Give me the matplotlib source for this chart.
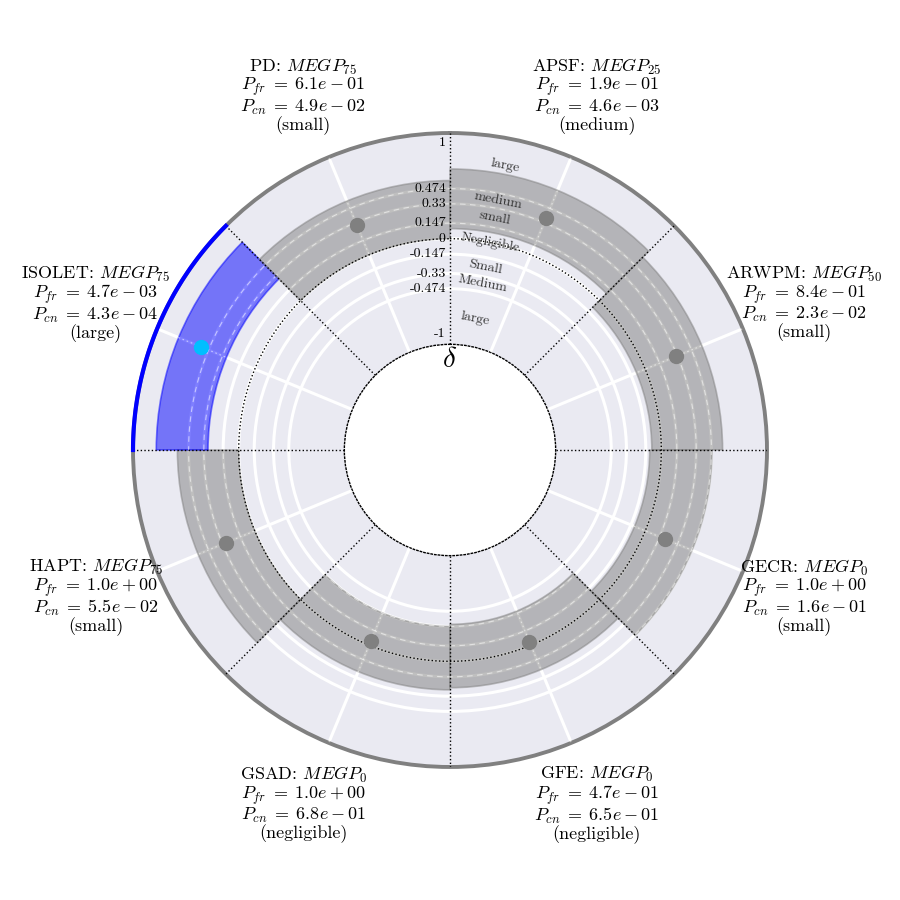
import numpy as np
import matplotlib
matplotlib.use('Agg')
import matplotlib.pyplot as plt
from matplotlib.transforms import ScaledTranslation

plt.rcParams['font.family'] = 'serif'
plt.rcParams['font.serif'] = ['cmr10', 'DejaVu Serif']
plt.rcParams['mathtext.fontset'] = 'cm'
plt.rcParams['axes.unicode_minus'] = False
plt.rcParams['axes.formatter.use_mathtext'] = True

# ---------------- data ----------------
datasets = ['APSF', 'ARWPM', 'GECR', 'GFE', 'GSAD', 'HAPT', 'ISOLET', 'PD']
best_megp = ['25', '50', '0', '0', '0', '75', '75', '75']
p_fr = ['1.9e-01', '8.4e-01', '1.0e+00', '4.7e-01', '1.0e+00', '1.0e+00', '4.7e-03', '6.1e-01']
p_cn = ['4.6e-03', '2.3e-02', '1.6e-01', '6.5e-01', '6.8e-01', '5.5e-02', '4.3e-04', '4.9e-02']
magnitude = ['medium', 'small', 'small', 'negligible', 'negligible', 'small', 'large', 'small']
delta_est = [0.375, 0.315, 0.206, -0.035, -0.047, 0.296, 0.555, 0.305]
ci_low = [0.095, -0.09, -0.11, -0.35, -0.33, 0.0, 0.29, 0.0]
ci_high = [0.66, 0.58, 0.48, 0.25, 0.27, 0.58, 0.78, 0.55]
highlight = [False, False, False, False, False, False, True, False]

r_ticks = [-0.474, -0.33, -0.147, 0, 0.147, 0.33, 0.474]
r_tick_labels = ['-0.474', '-0.33', '-0.147', '0', '0.147', '0.33', '0.474']
thresholds = [0.147, 0.33, 0.474, 1.0]
mag_names_pos = ['small', 'medium', 'large']
mag_names_neg = ['Small', 'Medium', 'large']

# ---------------- figure ----------------
fig = plt.figure(figsize=(9, 9), dpi=100)
fig.patch.set_facecolor('white')
ax = fig.add_axes([0.1478, 0.1478, 0.7044, 0.7044], projection='polar')
ax.set_theta_zero_location('N')
ax.set_theta_direction(-1)
ax.set_facecolor('#EAEAF2')
ax.set_ylim(-1, 1)
ax.set_rorigin(-2)

n = len(datasets)
width = 2 * np.pi / n
mids = np.arange(n) * width + width / 2
bounds = np.arange(n) * width

ax.set_xticks(mids)
ax.set_xticklabels([])
ax.set_yticks(r_ticks)
ax.set_yticklabels([])
ax.tick_params(length=0)
ax.grid(True, color='white', linewidth=2.2, linestyle='-')
ax.set_axisbelow(True)

ax.spines['polar'].set_color('#808080')
ax.spines['polar'].set_linewidth(2.8)
ax.spines['inner'].set_color('black')
ax.spines['inner'].set_linestyle(':')
ax.spines['inner'].set_linewidth(1.0)

# confidence bands
colors = ['blue' if h else 'gray' for h in highlight]
heights = np.array(ci_high) - np.array(ci_low)
ax.bar(mids, heights, width=width, bottom=ci_low, color=colors, alpha=0.5,
       edgecolor=colors, linewidth=1.2, zorder=2)

# light dashed grid over the bands
circ = np.linspace(0, 2 * np.pi, 721)
for v in r_ticks:
    if v != 0:
        ax.plot(circ, np.full_like(circ, v), color='white', lw=0.8,
                ls=(0, (5, 4)), alpha=0.55, zorder=3)
for m in mids:
    ax.plot([m, m], [-1, 1], color='white', lw=0.8, ls=(0, (1.5, 2.5)), alpha=0.55, zorder=3)

# zero circle and sector boundaries
ax.plot(circ, np.zeros_like(circ), color='black', ls=':', lw=1.0, zorder=3.5)
for b in bounds:
    ax.plot([b, b], [-1, 1], color='black', ls=':', lw=1.0, zorder=3.5)

# estimates
dot_colors = ['deepskyblue' if h else 'gray' for h in highlight]
for m, d, c in zip(mids, delta_est, dot_colors):
    ax.plot(m, d, 'o', ms=10, color=c, zorder=4)

# highlighted arc on the outer edge
for i, h in enumerate(highlight):
    if h:
        arc = np.linspace(bounds[i], bounds[i] + width, 100)
        ax.plot(arc, np.ones_like(arc), color='blue', lw=3, zorder=6, clip_on=False)

# radial tick labels
trans = ax.transData + ScaledTranslation(-3 / 72, 0, fig.dpi_scale_trans)
for v, lab in zip(r_ticks, r_tick_labels):
    ax.text(0, v, lab, transform=trans, ha='right', va='center', fontsize=10, zorder=7)
ax.text(0, 1, '1', transform=trans + ScaledTranslation(0, -3 / 72, fig.dpi_scale_trans),
        ha='right', va='top', fontsize=10, zorder=7)
ax.text(0, -1, '-1', transform=trans + ScaledTranslation(0, 3 / 72, fig.dpi_scale_trans),
        ha='right', va='bottom', fontsize=10, zorder=7)
ax.text(0, -1.15, r'$\delta$', ha='center', va='center', fontsize=21)

# magnitude region labels
edges = [0] + thresholds
mag_theta = np.deg2rad(11)
mag_kw = dict(ha='center', va='center', rotation=-11, rotation_mode='anchor',
              fontsize=10, color='#333333', zorder=7)
for k in range(3):
    mid_v = (edges[k + 1] + edges[k + 2]) / 2
    ax.text(mag_theta, mid_v, mag_names_pos[k], **mag_kw)
    ax.text(mag_theta, -mid_v, mag_names_neg[k], **mag_kw)
ax.text(mag_theta, 0, 'Negligible', **mag_kw)

# outer dataset labels
for i in range(n):
    txt = (f'{datasets[i]}: $MEGP_{{{best_megp[i]}}}$\n'
           f'$P_{{fr}}\\;=\\;{p_fr[i]}$\n'
           f'$P_{{cn}}\\;=\\;{p_cn[i]}$\n'
           f'({magnitude[i]})')
    ax.text(mids[i], 1.63, txt, ha='center', va='center', fontsize=13,
            linespacing=0.95, clip_on=False)

fig.savefig('out.png', dpi=100, facecolor='white')
